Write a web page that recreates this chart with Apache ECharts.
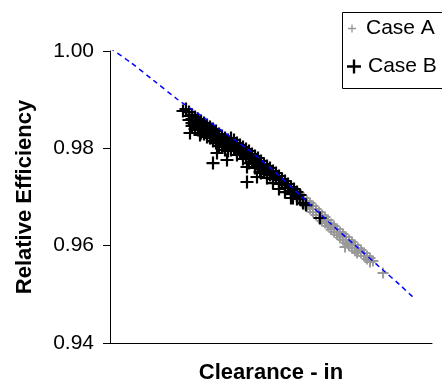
<!DOCTYPE html>
<html>
<head>
<meta charset="utf-8">
<script src="https://cdn.jsdelivr.net/npm/echarts@6/dist/echarts.min.js"></script>
<style>
html,body{margin:0;padding:0;background:#fff;}
#chart{width:442px;height:383px;}
</style>
</head>
<body>
<div id="chart"></div>
<script>
// Relative efficiency vs clearance (x axis unlabelled, arbitrary clearance units)
const yTicks = [0.94, 0.96, 0.98, 1.00];
const seriesNames = ['Case A', 'Case B'];

const caseA = [
[18.8,0.97082],[18.8,0.97020],[18.8,0.96959],
[19.1,0.97041],[19.1,0.96979],[19.1,0.96918],
[19.4,0.96979],[19.4,0.96918],[19.4,0.96856],
[19.7,0.96918],[19.7,0.96856],[19.7,0.96794],
[20.0,0.96876],[20.0,0.96815],[20.0,0.96753],
[20.3,0.96815],[20.3,0.96753],[20.3,0.96691],
[20.6,0.96753],[20.6,0.96691],[20.6,0.96630],
[20.9,0.96691],[20.9,0.96630],[20.9,0.96568],
[21.2,0.96630],[21.2,0.96568],[21.2,0.96507],
[21.5,0.96589],[21.5,0.96527],[21.5,0.96465],
[21.8,0.96527],[21.8,0.96465],[21.8,0.96404],
[22.1,0.96445],[22.1,0.96383],[22.1,0.96330],
[22.4,0.96404],[22.4,0.96342],[22.4,0.96280],
[22.7,0.96342],[22.7,0.96280],[22.7,0.96230],
[23.0,0.96280],[23.0,0.96219],[23.0,0.96165],
[23.3,0.96239],[23.3,0.96178],[23.3,0.96116],
[23.6,0.96178],[23.6,0.96116],[23.6,0.96060],
[23.9,0.96116],[23.9,0.96054],[23.9,0.96000],
[24.2,0.96075],[24.2,0.96013],[24.2,0.95952],
[24.5,0.96013],[24.5,0.95952],[24.5,0.95895],
[24.8,0.95952],[24.8,0.95890],
[25.1,0.95911],[25.1,0.95849],
[25.4,0.95849],[25.4,0.95787],
[25.7,0.95787],[25.7,0.95726],
[26.0,0.95746],[26.0,0.95685],
[26.3,0.95685],
[23.5,0.95972],[24.7,0.95849],[26.0,0.95664],[27.3,0.95438]
];

const caseB = [
[7.3,0.98767],[7.6,0.98808],
[7.9,0.98746],[7.9,0.98664],[7.9,0.98582],
[8.2,0.98685],[8.2,0.98603],[8.2,0.98520],[8.2,0.98459],
[8.5,0.98644],[8.5,0.98562],[8.5,0.98479],[8.5,0.98397],
[8.8,0.98603],[8.8,0.98520],[8.8,0.98438],[8.8,0.98377],
[9.1,0.98562],[9.1,0.98479],[9.1,0.98397],[9.1,0.98315],
[9.4,0.98520],[9.4,0.98438],[9.4,0.98356],[9.4,0.98294],
[9.7,0.98479],[9.7,0.98397],[9.7,0.98315],[9.7,0.98233],
[10.0,0.98438],[10.0,0.98356],[10.0,0.98274],[10.0,0.98212],
[10.3,0.98397],[10.3,0.98315],[10.3,0.98233],[10.3,0.98150],
[10.6,0.98356],[10.6,0.98274],[10.6,0.98171],[10.6,0.98109],
[10.9,0.98294],[10.9,0.98212],[10.9,0.98130],[10.9,0.98048],
[11.2,0.98253],[11.2,0.98171],[11.2,0.98089],[11.2,0.98027],
[11.5,0.98212],[11.5,0.98130],[11.5,0.98048],[11.5,0.97966],
[11.8,0.98171],[11.8,0.98089],[11.8,0.98007],[11.8,0.97945],
[12.1,0.98212],[12.1,0.98130],[12.1,0.98048],[12.1,0.97966],
[12.4,0.98171],[12.4,0.98089],[12.4,0.98007],
[12.7,0.98109],[12.7,0.98027],[12.7,0.97945],[12.7,0.97863],
[13.0,0.98068],[13.0,0.97986],[13.0,0.97904],
[13.3,0.98027],[13.3,0.97945],[13.3,0.97863],[13.3,0.97781],
[13.6,0.97986],[13.6,0.97904],[13.6,0.97822],
[13.9,0.97945],[13.9,0.97863],[13.9,0.97781],[13.9,0.97698],
[14.2,0.97883],[14.2,0.97801],[14.2,0.97719],
[14.5,0.97842],[14.5,0.97760],[14.5,0.97678],[14.5,0.97596],
[14.8,0.97801],[14.8,0.97719],[14.8,0.97637],
[15.1,0.97740],[15.1,0.97657],[15.1,0.97575],[15.1,0.97493],
[15.4,0.97678],[15.4,0.97596],[15.4,0.97530],
[15.7,0.97637],[15.7,0.97555],[15.7,0.97472],[15.7,0.97390],
[16.0,0.97596],[16.0,0.97513],[16.0,0.97450],
[16.3,0.97534],[16.3,0.97452],[16.3,0.97370],[16.3,0.97287],
[16.6,0.97493],[16.6,0.97411],
[16.9,0.97431],[16.9,0.97349],[16.9,0.97267],[16.9,0.97164],
[17.2,0.97370],[17.2,0.97287],
[17.5,0.97329],[17.5,0.97246],[17.5,0.97185],[17.5,0.97102],
[17.8,0.97267],[17.8,0.97185],
[18.1,0.97205],[18.1,0.97123],[18.1,0.97061],[18.1,0.96979],
[18.4,0.97164],[18.4,0.97082],
[18.7,0.97102],[18.7,0.97020],[18.7,0.96959],
[19.0,0.97041],[19.0,0.96959],
[8.0,0.98315],[9.0,0.98274],[10.3,0.97698],[10.7,0.97904],[11.7,0.97760],
[13.7,0.97616],[13.7,0.97308],[14.7,0.97411],[15.0,0.97513],
[18.3,0.96979],[19.3,0.96876],[19.6,0.96835],[21.0,0.96568]
];

const fitLine = [
[0,1.0006],[2.0,0.99774],[4.3,0.99404],[6.7,0.99014],[7.7,0.98870],[9.7,0.98582],
[12.2,0.98212],[14.0,0.97945],[16.5,0.97513],[19.2,0.97000],[22.0,0.96465],
[24.7,0.95972],[27.3,0.95500],[29.0,0.95191],[30.4,0.94924]
];

const PLUS = 'path://M5.4,0H7.6V5.4H13V7.6H7.6V13H5.4V7.6H0V5.4H5.4Z';
const FONT = 'Liberation Sans, Arial, sans-serif';

const chart = echarts.init(document.getElementById('chart'), null, {renderer: 'canvas'});
chart.setOption({
  animation: false,
  backgroundColor: '#fff',
  grid: {left: 110, top: 51, right: 10, bottom: 40, containLabel: false, outerBoundsMode: 'none'},
  graphic: [{
    type: 'rect', z: 0,
    shape: {x: 342.5, y: 12.5, width: 120, height: 76},
    style: {fill: '#fff', stroke: '#000', lineWidth: 1}
  }],
  legend: [{
    data: [{name: seriesNames[0], icon: PLUS}],
    left: 348, top: 18, padding: 0,
    itemWidth: 18, itemHeight: 8,
    textStyle: {fontFamily: FONT, fontSize: 21, color: '#000'},
    selectedMode: false
  }, {
    data: [{name: seriesNames[1], icon: PLUS}],
    left: 347, top: 56, padding: 0,
    itemWidth: 18, itemHeight: 14,
    textStyle: {fontFamily: FONT, fontSize: 21, color: '#000'},
    selectedMode: false
  }],
  xAxis: {
    type: 'value', min: 0, max: 32.2,
    name: 'Clearance - in', nameLocation: 'middle', nameGap: 19,
    nameTextStyle: {fontFamily: FONT, fontSize: 22, fontWeight: 'bold', color: '#000'},
    axisLine: {show: true, lineStyle: {color: '#000', width: 1}},
    axisTick: {show: false}, axisLabel: {show: false}, splitLine: {show: false}
  },
  yAxis: {
    type: 'value', min: yTicks[0], max: yTicks[yTicks.length - 1], interval: 0.02,
    name: 'Relative Efficiency', nameLocation: 'middle', nameGap: 74, nameRotate: 90,
    nameTextStyle: {fontFamily: FONT, fontSize: 22, fontWeight: 'bold', color: '#000'},
    axisLine: {show: true, lineStyle: {color: '#000', width: 1}},
    axisTick: {show: true, inside: false, length: 7, lineStyle: {color: '#000'}},
    axisLabel: {fontFamily: FONT, fontSize: 21, color: '#000', margin: 16,
      formatter: v => v.toFixed(2)},
    splitLine: {show: false}
  },
  series: [{
    name: seriesNames[0], type: 'scatter', data: caseA, z: 2,
    symbol: PLUS, symbolSize: 11, itemStyle: {color: '#999999', opacity: 1}
  }, {
    name: seriesNames[1], type: 'scatter', data: caseB, z: 3,
    symbol: PLUS, symbolSize: 13, itemStyle: {color: '#000000', opacity: 1}
  }, {
    name: 'fit', type: 'line', data: fitLine, z: 4, smooth: 0.3,
    showSymbol: false, symbol: 'none',
    lineStyle: {color: '#0000ff', width: 1.5, type: [5, 4]}
  }]
});
</script>
</body>
</html>
